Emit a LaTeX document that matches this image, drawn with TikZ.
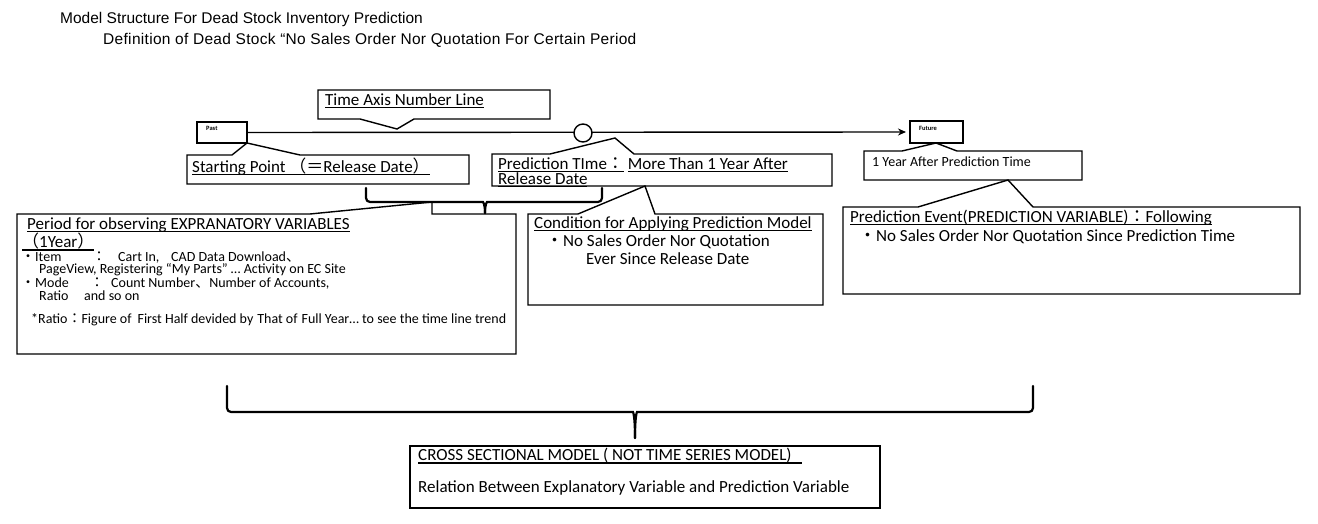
\documentclass[tikz,border=0pt]{standalone}
\usepackage{fontspec}
\usetikzlibrary{arrows.meta}
\setmainfont{Carlito}
\newfontfamily\cjk{Noto Sans CJK JP}
\newfontfamily\titlefont{Liberation Sans}
\newfontfamily\titlefontw[LetterSpace=2]{Liberation Sans}
\newcommand\jc[1]{{\cjk #1}}
\newcommand\myul[1]{\leavevmode\setbox0\hbox{#1}\rlap{\copy0}\rule[-2.6pt]{\wd0}{1.2pt}}
\newcommand\atx[2]{\rlap{\hspace*{#1}#2}}
\begin{document}
\begin{tikzpicture}[x=1pt,y=-1pt,
  bx/.style={line width=1.4pt, line join=miter},
  frame/.style={inner sep=0pt, outer sep=0pt, anchor=north west},
  txt/.style={anchor=west, inner sep=0pt, font=\fontsize{17}{18}\selectfont},
  sm/.style={anchor=west, inner sep=0pt, font=\fontsize{14}{15}\selectfont},
  tinyl/.style={anchor=west, inner sep=0pt, font=\fontsize{6.5}{7}\selectfont\bfseries},
  ttl/.style={anchor=west, inner sep=0pt, font=\titlefont\fontsize{15.5}{16}\selectfont},
  brc/.style={line width=2.2pt, line cap=round, rounded corners=4pt}]
\useasboundingbox[fill=white] (0,0) rectangle (1318,524);

% titles
\node[ttl] (t1) at (60,19) {Model Structure For Dead Stock Inventory Prediction};
\node[ttl, font=\titlefontw\fontsize{15.5}{16}\selectfont] (t2) at (103,40) {Definition of Dead Stock “No Sales Order Nor Quotation For Certain Period};

% time axis
\node[frame, draw, bx, minimum width=50pt, minimum height=21pt] (pa) at (197,122) {};
\node[tinyl] (pal) at (206,128) {Past};
\node[frame, draw, bx, minimum width=53pt, minimum height=22pt] (fu) at (910,121) {};
\node[tinyl] (ful) at (919,128) {Future};
\draw[line width=1.4pt, -{Stealth[length=8pt,width=7pt]}, shorten >=4pt] (pa.east) -- (fu.west);
\node[circle, draw, fill=white, line width=1.4pt, minimum size=18pt, inner sep=0pt] (ci) at (583,133) {};

% Time Axis Number Line callout
\node[frame, minimum width=232pt, minimum height=29pt] (tb) at (318,90) {};
\coordinate (tbt) at (397,129);
\draw[bx] (tb.north west) -- (tb.north east) -- (tb.south east) -- (414,119) -- (tbt) -- (360,119) -- (tb.south west) -- cycle;
\node[txt] (tbl) at (325,101) {\myul{Time Axis Number Line}};

% Starting point callout
\node[frame, minimum width=282pt, minimum height=29pt] (sp) at (187,155) {};
\draw[bx] (sp.north west) -- (232,155) -- (pa.south east) -- (300,155) -- (sp.north east) -- (sp.south east) -- (sp.south west) -- cycle;
\node[txt] (spl) at (192,167) {\myul{Starting Point \jc{（＝}Release Date\jc{）}}};

% Prediction time callout
\node[frame, minimum width=340pt, minimum height=32pt] (pt) at (492,154) {};
\coordinate (ptt) at (615,138);
\draw[bx] (pt.north west) -- (550,154) -- (ptt) -- (634,154) -- (pt.north east) -- (pt.south east) -- (pt.south west) -- cycle;
\node[txt] (ptl1) at (498,165) {\myul{Prediction TIme\jc{：}} \myul{More Than 1 Year After}};
\node[txt] (ptl2) at (498,180) {\myul{Release Date}};

% 1 year after callout
\node[frame, minimum width=218pt, minimum height=29pt] (oy) at (864,151) {};
\draw[bx] (oy.north west) -- (902,151) -- (936,143) -- (957,151) -- (oy.north east) -- (oy.south east) -- (oy.south west) -- cycle;
\node[sm] (oyl) at (872,162) {1 Year After Prediction Time};

% Prediction event callout
\node[frame, minimum width=457pt, minimum height=87pt] (pe) at (843,207) {};
\draw[bx] (pe.north west) -- (918,207) -- (1008,180) -- (1033,207) -- (pe.north east) -- (pe.south east) -- (pe.south west) -- cycle;
\node[txt] (pel1) at (850,218) {\myul{Prediction Event(PREDICTION VARIABLE)\jc{：}Following}};
\node[txt] (pel2) at (859,237) {\jc{・}No Sales Order Nor Quotation Since Prediction Time};

% Condition callout
\node[frame, minimum width=295pt, minimum height=91pt] (cd) at (528,214) {};
\draw[bx] (cd.north west) -- (578,214) -- (645,186) -- (655,214) -- (cd.north east) -- (cd.south east) -- (cd.south west) -- cycle;
\node[txt] (cdl1) at (534,224) {\myul{Condition for Applying Prediction Model}};
\node[txt] (cdl2) at (546,242) {\jc{・}No Sales Order Nor Quotation};
\node[txt] (cdl3) at (586,259) {Ever Since Release Date};

% brace 1
\draw[brc] (366,188) -- (366,202) -- (479,202) .. controls (483,202) and (485,204) .. (485,213);
\draw[brc] (602,188) -- (602,202) -- (491,202) .. controls (487,202) and (485,204) .. (485,213);

% Period callout
\node[frame, minimum width=499pt, minimum height=140pt] (pd) at (17,214) {};
\draw[bx] (pd.north west) -- (310,214) -- (432,202) -- (432,214) -- (pd.north east) -- (pd.south east) -- (pd.south west) -- cycle;
\node[txt] (pdl1) at (27,225) {\myul{Period for observing EXPRANATORY VARIABLES}};
\node[txt] (pdl2) at (22,242) {\myul{\jc{（}1Year\jc{）}}};
\node[sm] (pdl3) at (21,258) {\atx{0pt}{\jc{・}Item}\atx{71pt}{\jc{：}}\atx{97pt}{Cart In,}\atx{150pt}{CAD Data Download\jc{、}}\hspace*{263pt}};
\node[sm] (pdl4) at (39,270) {PageView, Registering “My Parts” … Activity on EC Site};
\node[sm] (pdl5) at (21,284) {\atx{0pt}{\jc{・}Mode}\atx{69pt}{\jc{：}}\atx{90pt}{Count Number\jc{、}Number of Accounts,}\hspace*{313pt}};
\node[sm] (pdl6) at (39,296) {\atx{0pt}{Ratio}\atx{45pt}{and so on}\hspace*{106pt}};
\node[sm] (pdl7) at (31,320) {*Ratio\jc{：}Figure of\hspace{6pt}First Half devided by\hspace{4pt}That of\hspace{4pt}Full Year… to see the time line trend};

% brace 2
\draw[brc] (227,386) -- (227,412) -- (629,412) .. controls (633,412) and (635,415) .. (635,438);
\draw[brc] (1033,386) -- (1033,412) -- (641,412) .. controls (637,412) and (635,415) .. (635,438);

% Cross sectional box
\node[frame, draw, bx, minimum width=470pt, minimum height=62pt] (cr) at (410,446) {};
\node[txt] (crl1) at (418,456) {\myul{CROSS SECTIONAL MODEL ( NOT TIME SERIES MODEL)\hspace{10pt}}};
\node[txt] (crl2) at (418,488) {Relation Between Explanatory Variable and Prediction Variable};
\end{tikzpicture}
\end{document}
